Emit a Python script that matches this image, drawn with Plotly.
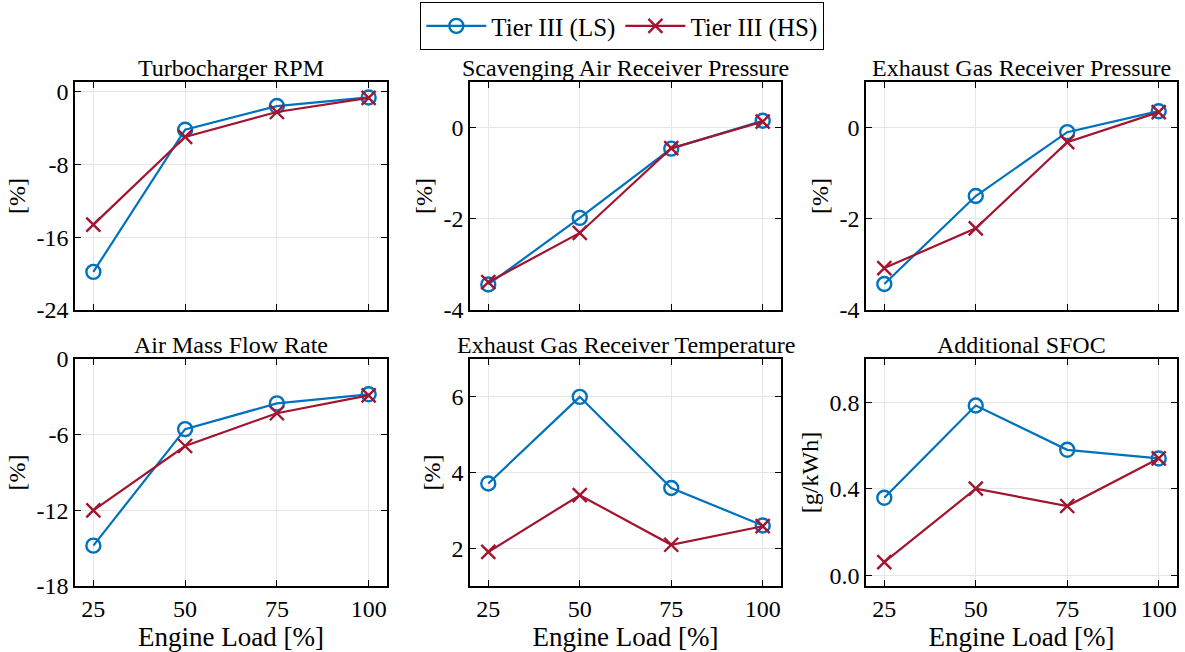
import plotly.graph_objects as go

loads = [25, 50, 75, 100]

titles = ["Turbocharger RPM", "Scavenging Air Receiver Pressure", "Exhaust Gas Receiver Pressure",
          "Air Mass Flow Rate", "Exhaust Gas Receiver Temperature", "Additional SFOC"]
ylabels = ["[%]", "[%]", "[%]", "[%]", "[%]", "[g/kWh]"]

ls_turbo = [-19.8, -4.15, -1.55, -0.6]
hs_turbo = [-14.6, -4.95, -2.2, -0.65]
ls_scav = [-3.44, -1.98, -0.46, 0.15]
hs_scav = [-3.39, -2.31, -0.45, 0.13]
ls_exhp = [-3.43, -1.50, -0.10, 0.36]
hs_exhp = [-3.08, -2.21, -0.32, 0.34]
ls_air = [-14.8, -5.56, -3.52, -2.8]
hs_air = [-12.0, -6.9, -4.3, -2.88]
ls_exht = [3.71, 6.0, 3.59, 2.6]
hs_exht = [1.9, 3.4, 2.09, 2.58]
ls_sfoc = [0.358, 0.785, 0.58, 0.54]
hs_sfoc = [0.06, 0.40, 0.32, 0.54]

ls_all = [ls_turbo, ls_scav, ls_exhp, ls_air, ls_exht, ls_sfoc]
hs_all = [hs_turbo, hs_scav, hs_exhp, hs_air, hs_exht, hs_sfoc]

ytickvals = [[0, -8, -16, -24], [0, -2, -4], [0, -2, -4], [0, -6, -12, -18], [2, 4, 6], [0.0, 0.4, 0.8]]
yticktext = [["0", "-8", "-16", "-24"], ["0", "-2", "-4"], ["0", "-2", "-4"],
             ["0", "-6", "-12", "-18"], ["2", "4", "6"], ["0.0", "0.4", "0.8"]]
yranges = [[-24, 1.1], [-4, 1], [-4, 1], [-18, 0], [1, 7], [-0.05, 1.0]]
xticklabels = ["25", "50", "75", "100"]

BLUE = "#0072BD"
RED = "#A2142F"
FONT = "Times New Roman"

xdoms = [[75 / 1185, 387 / 1185], [470 / 1185, 781 / 1185], [866 / 1185, 1177 / 1185]]
ydoms = [[1 - 310 / 652, 1 - 82 / 652], [1 - 586 / 652, 1 - 359 / 652]]

fig = go.Figure()
annotations = []
for i in range(6):
    r, c = divmod(i, 3)
    ax = "" if i == 0 else str(i + 1)
    fig.add_trace(go.Scatter(
        x=loads, y=ls_all[i], mode="lines+markers", name="Tier III (LS)",
        line=dict(color=BLUE, width=2.2),
        marker=dict(symbol="circle-open", size=14, color=BLUE, line=dict(width=2.4)),
        xaxis="x" + ax, yaxis="y" + ax, showlegend=(i == 0)))
    fig.add_trace(go.Scatter(
        x=loads, y=hs_all[i], mode="lines+markers", name="Tier III (HS)",
        line=dict(color=RED, width=2.2),
        marker=dict(symbol="x-thin-open", size=14, color=RED, line=dict(width=2.4, color=RED)),
        xaxis="x" + ax, yaxis="y" + ax, showlegend=(i == 0)))
    common = dict(showline=True, linecolor="black", linewidth=1.6, mirror="ticks",
                  ticks="inside", ticklen=6, tickcolor="black", tickwidth=1.2,
                  showgrid=True, gridcolor="#E6E6E6", gridwidth=1, zeroline=False,
                  automargin=False,
                  tickfont=dict(family=FONT, size=24, color="black"))
    xa = dict(common, domain=xdoms[c], range=[20, 105], tickvals=loads,
              ticktext=xticklabels if r == 1 else ["", "", "", ""],
              anchor="y" + ax)
    if r == 1:
        xa["title"] = dict(text="Engine Load [%]", font=dict(family=FONT, size=27, color="black"), standoff=2)
    ya = dict(common, domain=ydoms[r], range=yranges[i], tickvals=ytickvals[i],
              ticktext=yticktext[i], anchor="x" + ax,
              title=dict(text=ylabels[i], font=dict(family=FONT, size=24, color="black"), standoff=4))
    fig.layout["xaxis" + ax] = xa
    fig.layout["yaxis" + ax] = ya
    annotations.append(dict(
        text=titles[i], x=(xdoms[c][0] + xdoms[c][1]) / 2, y=ydoms[r][1],
        xref="paper", yref="paper", xanchor="center", yanchor="bottom", yshift=-1,
        showarrow=False, font=dict(family=FONT, size=24, color="black")))

fig.update_layout(
    template="none",
    font=dict(family=FONT, size=24, color="black"),
    width=1185, height=652, margin=dict(l=0, r=0, t=0, b=0),
    paper_bgcolor="white", plot_bgcolor="white",
    annotations=annotations,
    legend=dict(orientation="h", x=0.525, xanchor="center", y=0.997, yanchor="top",
                bordercolor="black", borderwidth=1.2, bgcolor="white",
                font=dict(family=FONT, size=25, color="black"), itemwidth=60,
                tracegroupgap=0),
)

fig.write_html("out.html")
